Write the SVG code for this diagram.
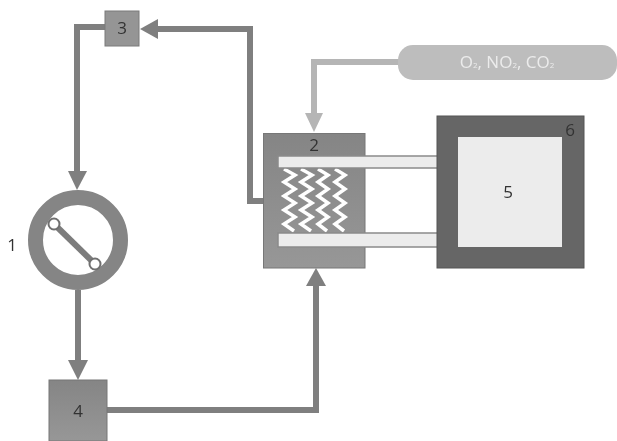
<svg xmlns="http://www.w3.org/2000/svg" width="617" height="441" viewBox="0 0 617 441">
<style>
text{font-family:"Open Sans","Liberation Sans",sans-serif;font-size:17px;fill:#333;text-anchor:middle}
.c{fill:none;stroke:#7f7f7f;stroke-width:6}
.g{fill:none;stroke:#b5b5b5;stroke-width:6}
.h{fill:#7f7f7f}
.z{fill:none;stroke:#fff;stroke-width:3.500}
.t{fill:#ececec;stroke:#8a8a8a;stroke-width:1.500}
</style>
<defs>
<filter id="b" x="-5%" y="-5%" width="110%" height="110%"><feGaussianBlur stdDeviation="0.5"/></filter>
<linearGradient id="m" x1="0" y1="0" x2="0" y2="1"><stop offset="0" stop-color="#858585"/><stop offset="1" stop-color="#979797"/></linearGradient>
</defs>
<rect width="617" height="441" fill="#fff"/>
<g filter="url(#b)">
<g id="connectors">
<path class="c" d="M264 201H250V29H155"/><path class="h" d="M140 29L158 19V39Z"/>
<path class="c" d="M105 27H77V173"/><path class="h" d="M77 190L68 171H87Z"/>
<path class="c" d="M78 290V362"/><path class="h" d="M78 380L68 360H88Z"/>
<path class="c" d="M107 410H316V284"/><path class="h" d="M316 268L306 286H326Z"/>
<path class="g" d="M400 62H314V115"/><path fill="#b5b5b5" d="M314 132L305 113H323Z"/>
</g>
<g id="node-3"><rect x="105" y="11" width="34" height="35" fill="#959595" stroke="#7a7a7a"/><text x="122" y="34">3</text></g>
<g id="node-1"><circle cx="78" cy="240" r="42.500" fill="#fff" stroke="#858585" stroke-width="15"/>
<path d="M54 224L95 264" stroke="#7c7c7c" stroke-width="6" fill="none"/>
<circle cx="54" cy="224" r="5.500" fill="#fff" stroke="#6f6f6f" stroke-width="2"/><circle cx="95" cy="264" r="5.500" fill="#fff" stroke="#6f6f6f" stroke-width="2"/>
<text x="12" y="251">1</text></g>
<g id="node-4"><rect x="49" y="380" width="58" height="61" fill="url(#m)" stroke="#777"/><text x="78" y="417">4</text></g>
<g id="node-2"><rect x="263.500" y="133.500" width="101.500" height="134.500" fill="url(#m)" stroke="#777"/><text x="314" y="151">2</text>
<path class="z" d="M284 169L295 175L284 182L295 189L284 196L295 203L284 210L295 217L284 224L294 231"/>
<path class="z" d="M301 169L312 175L301 182L312 189L301 196L312 203L301 210L312 217L301 224L311 231"/>
<path class="z" d="M318 169L328 175L318 182L328 189L318 196L328 203L318 210L328 217L318 224L327 231"/>
<path class="z" d="M335 169L345 175L335 182L345 189L335 196L345 203L335 210L345 217L335 224L344 231"/>
<path class="t" d="M437 156H278V168H437"/><path class="t" d="M437 233H278V247H437"/></g>
<g id="node-6"><rect x="437" y="116" width="147" height="152" fill="#666" stroke="#555"/><text x="570" y="136">6</text></g>
<g id="node-5"><rect x="458" y="137" width="104" height="110" fill="#ececec"/><text x="508" y="198">5</text></g>
<g id="node-gas"><rect x="398" y="45" width="219" height="35" rx="15" fill="#bdbdbd"/><text x="507" y="68" style="fill:#ececec;font-size:17px">O<tspan font-size="8">2</tspan>, NO<tspan font-size="8">2</tspan>, CO<tspan font-size="8">2</tspan></text></g>
</g>
</svg>
